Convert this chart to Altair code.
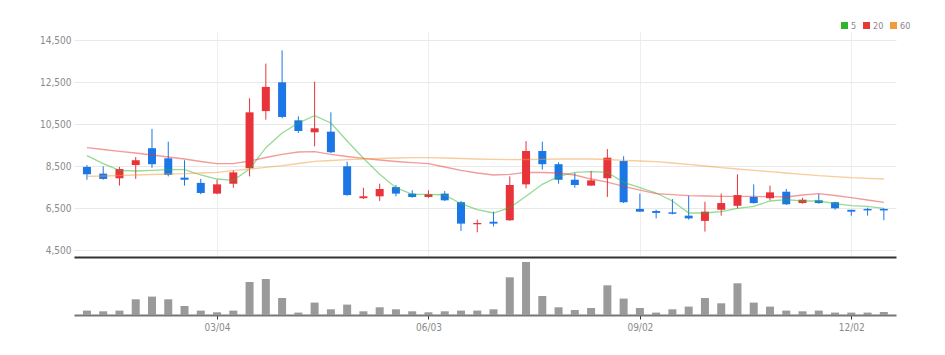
import altair as alt
import pandas as pd

# ---- data (weekly candles, 2024) ----
start_week = "2024-01-08"
n_weeks = 50

opens = [8470, 8150, 7930, 8560, 9360, 8880, 7960, 7710, 7200, 7670,
         8410, 11130, 12500, 10690, 10120, 10150, 8500, 6980, 7070, 7510,
         7200, 7040, 7200, 6790, 5740, 5860, 5930, 7640, 9230, 8600,
         7860, 7580, 7930, 8750, 6470, 6370, 6310, 6150, 5900, 6430,
         6620, 7040, 6980, 7290, 6750, 6880, 6790, 6430, 6470, 6470]
closes = [8120, 7900, 8370, 8790, 8600, 8090, 7860, 7230, 7640, 8210,
          11070, 12280, 10850, 10180, 10310, 9170, 7130, 7070, 7420, 7200,
          7040, 7170, 6880, 5770, 5800, 5770, 7610, 9230, 8600, 7860,
          7610, 7830, 8910, 6790, 6340, 6280, 6240, 6020, 6340, 6750,
          7130, 6750, 7260, 6690, 6910, 6750, 6500, 6340, 6400, 6400]
highs = [8560, 8500, 8470, 8940, 10280, 9670, 8790, 7900, 7860, 8310,
         11740, 13390, 14020, 10880, 12530, 11070, 8720, 7480, 7670, 7610,
         7360, 7360, 7320, 6850, 5960, 6340, 8020, 9700, 9670, 8690,
         8180, 8280, 9320, 8980, 7200, 6430, 6940, 7100, 6810, 7200,
         8120, 7640, 7580, 7420, 7000, 7170, 6810, 6430, 6530, 6500]
lows = [7860, 7860, 7580, 7900, 8430, 8020, 7580, 7170, 7170, 7480,
        8020, 10720, 10790, 10090, 9450, 9130, 7100, 6940, 6850, 7070,
        7000, 7000, 6850, 5420, 5360, 5640, 5900, 7450, 8340, 7670,
        7480, 7580, 7040, 6750, 6340, 6020, 6210, 5960, 5390, 6150,
        6500, 6720, 6880, 6660, 6720, 6720, 6430, 6150, 6150, 5930]
volumes = [88000, 74000, 88000, 314000, 368000, 314000, 180000, 88000, 54000, 88000,
           660000, 720000, 340000, 48000, 248000, 114000, 208000, 74000, 154000, 114000,
           74000, 54000, 74000, 88000, 88000, 114000, 754000, 1060000, 380000, 154000,
           100000, 140000, 594000, 328000, 140000, 48000, 114000, 168000, 340000, 234000,
           634000, 248000, 168000, 88000, 74000, 88000, 48000, 48000, 48000, 60000]
ma5 = [9005, 8624, 8310, 8276, 8310, 8338, 8338, 8086, 7895, 7833,
       8371, 9386, 10086, 10562, 10910, 10562, 9705, 8881, 8119, 7481,
       7167, 7167, 7133, 6719, 6433, 6276, 6529, 7071, 7643, 8024,
       8214, 8243, 8214, 7738, 7481, 7229, 6848, 6276, 6276, 6338,
       6500, 6595, 6848, 6910, 6848, 6848, 6719, 6624, 6595, 6500]
ma20 = [9386, 9300, 9214, 9133, 9038, 8943, 8848, 8729, 8624, 8624,
        8752, 8919, 9072, 9181, 9195, 9072, 8967, 8881, 8800, 8729,
        8671, 8624, 8467, 8310, 8181, 8086, 8119, 8214, 8205, 8181,
        8086, 7895, 7752, 7548, 7371, 7195, 7148, 7100, 7086, 7071,
        7071, 7071, 7052, 7038, 7133, 7195, 7110, 7005, 6895, 6786]
ma60 = [8024, 8038, 8062, 8086, 8110, 8133, 8148, 8181, 8214, 8290,
        8371, 8452, 8529, 8633, 8738, 8776, 8814, 8848, 8871, 8895,
        8910, 8910, 8895, 8871, 8848, 8833, 8814, 8824, 8833, 8848,
        8848, 8848, 8824, 8786, 8752, 8719, 8657, 8595, 8514, 8433,
        8371, 8310, 8243, 8181, 8119, 8052, 8005, 7957, 7929, 7895]

tick_dates = ["2024-03-04", "2024-06-03", "2024-09-02", "2024-12-02"]
price_ticks = [4500, 6500, 8500, 10500, 12500, 14500]
ma_names = ["5", "20", "60"]

# ---- tables ----
dates = pd.date_range(start_week, periods=n_weeks, freq="7D")
df = pd.DataFrame({"date": dates, "open": opens, "close": closes,
                   "high": highs, "low": lows, "volume": volumes})
df["dir"] = ["up" if c >= o else "down" for o, c in zip(opens, closes)]

ma_df = pd.concat([
    pd.DataFrame({"date": dates, "ma": vals, "series": name})
    for name, vals in zip(ma_names, [ma5, ma20, ma60])
])

FONT = "Liberation Sans Narrow, DejaVu Sans Condensed, sans-serif"
x_dom = [alt.DateTime(year=2024, month=1, date=4, hours=14),
         alt.DateTime(year=2024, month=12, date=19, hours=2)]
tick_vals = [alt.DateTime(year=2024, month=int(d[5:7]), date=int(d[8:10])) for d in tick_dates]

W = 822
x_scale = alt.Scale(domain=x_dom)
x_axis_price = alt.Axis(values=tick_vals, labels=False, ticks=False, title=None,
                        grid=True, gridColor="#eeeeee", domainColor="#333333",
                        domainWidth=2, maxExtent=0, minExtent=0)
y_scale_price = alt.Scale(domain=[4181, 14943], nice=False, zero=False)
y_axis_price = alt.Axis(values=price_ticks, format=",d", title=None, ticks=False,
                        domain=False, grid=True, gridColor="#e9e9e9", labelColor="#8a8a8a",
                        labelFontSize=10, labelFont=FONT, labelPadding=3,
                        minExtent=74, maxExtent=74)
dir_color = alt.Color("dir:N", scale=alt.Scale(domain=["up", "down"],
                                               range=["#e8333b", "#1b76e6"]), legend=None)

base = alt.Chart(df)
wicks = base.mark_rule(strokeWidth=1).encode(
    x=alt.X("date:T", scale=x_scale, axis=x_axis_price),
    y=alt.Y("low:Q", scale=y_scale_price, axis=y_axis_price),
    y2="high:Q",
    color=dir_color,
)
bodies = base.mark_bar(size=8).encode(
    x=alt.X("date:T", scale=x_scale, axis=x_axis_price),
    y=alt.Y("open:Q", scale=y_scale_price, axis=y_axis_price),
    y2="close:Q",
    color=dir_color,
)
lines = alt.Chart(ma_df).mark_line(strokeWidth=1.3, opacity=0.5).encode(
    x=alt.X("date:T", scale=x_scale, axis=x_axis_price),
    y=alt.Y("ma:Q", scale=y_scale_price, axis=y_axis_price),
    color=alt.Color("series:N", sort=ma_names,
                    scale=alt.Scale(domain=ma_names, range=["#2db52d", "#e53935", "#f39a3a"]),
                    legend=alt.Legend(orient="none", legendX=766, legendY=-10,
                                      direction="horizontal", title=None,
                                      gridAlign="none",
                                      symbolType="square", symbolSize=9,
                                      symbolOpacity=1, symbolStrokeWidth=4,
                                      labelFontSize=9, labelColor="#888888",
                                      labelFont=FONT, columnPadding=0, labelOffset=2)),
    detail="series:N",
)
price = alt.layer(wicks, bodies, lines).resolve_scale(color="independent").properties(
    width=W, height=226)

volume = alt.Chart(df).mark_bar(size=8, color="#9a9a9a").encode(
    x=alt.X("date:T", scale=x_scale,
            axis=alt.Axis(values=tick_vals, format="%m/%d", title=None, grid=False,
                          tickColor="#333333", tickSize=4, domainColor="#777777",
                          domainWidth=2, labelColor="#8a8a8a", labelFontSize=10,
                          labelFont=FONT, labelPadding=3)),
    y=alt.Y("volume:Q", scale=alt.Scale(domain=[0, 1160000], nice=False),
            axis=alt.Axis(labels=False, ticks=False, domain=False, grid=False, title=None,
                          minExtent=74, maxExtent=74)),
).properties(width=W, height=58)

chart = alt.vconcat(price, volume, spacing=0).properties(
    padding={"left": 0, "top": 21, "right": 5, "bottom": 5},
    background="white",
).configure_view(stroke=None, strokeWidth=0)

chart.save("out.html", embed_options={"renderer": "svg", "actions": False})
